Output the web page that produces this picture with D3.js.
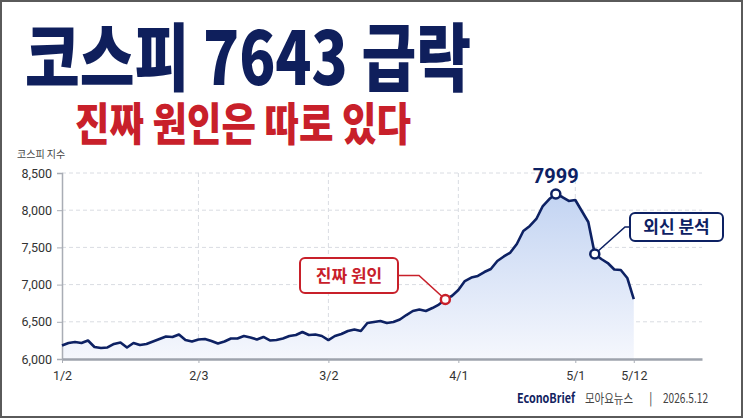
<!DOCTYPE html>
<html>
<head>
<meta charset="utf-8">
<script src="https://cdn.jsdelivr.net/npm/d3@7"></script>
<style>
  body { margin: 0; background: #fff; }
  svg { display: block; font-family: "Noto Sans CJK KR", "Noto Sans", sans-serif; }
</style>
</head>
<body>
<div class="chart"></div>
<script>
// KOSPI daily closes (one per trading day, 1/2 .. 5/12)
const kospi = [
  6181, 6215, 6228, 6215, 6249, 6161, 6148, 6155, 6202, 6222,
  6155, 6215, 6188, 6202, 6235, 6269, 6302, 6296, 6329, 6255,
  6235, 6262, 6269, 6242, 6208, 6235, 6276, 6276, 6309, 6289,
  6262, 6296, 6249, 6255, 6276, 6309, 6323, 6363, 6323, 6329,
  6309, 6255, 6309, 6336, 6376, 6396, 6376, 6484, 6497, 6511,
  6484, 6497, 6531, 6591, 6645, 6665, 6645, 6685, 6732, 6800,
  6847, 6927, 7048, 7095, 7116, 7169, 7210, 7317, 7378, 7431,
  7546, 7720, 7788, 7882, 8056, 8150, 8218, 8177, 8124, 8137,
  7989, 7841, 7411, 7344, 7290, 7203, 7196, 7089, 6806
];

// x-axis tick labels and the trading-day index they sit on
const tickDays = [0, 21, 41, 61, 79, 88];
const tickLabels = ["1/2", "2/3", "3/2", "4/1", "5/1", "5/12"];

// y-axis ticks
const yTicks = [6000, 6500, 7000, 7500, 8000, 8500];

// annotations: index on the line + label
const peakIndex = 76;
const peakLabel = "7999";
const causeIndex = 59;
const causeLabel = "진짜 원인";
const foreignIndex = 82;
const foreignLabel = "외신 분석";

const width = 743;
const height = 418;
const navy = "#0d2163";
const red = "#c8202a";

const svg = d3.select(".chart")
  .append("svg")
    .attr("width", width)
    .attr("height", height);

// border of the card
svg.append("rect")
  .attr("x", 1).attr("y", 1)
  .attr("width", width - 2).attr("height", height - 2)
  .attr("fill", "#fff")
  .attr("stroke", "#5a5a5a")
  .attr("stroke-width", 2);

// headline
svg.append("text")
  .attr("x", 25).attr("y", 85)
  .attr("textLength", 446)
  .attr("lengthAdjust", "spacingAndGlyphs")
  .style("font-size", "74px")
  .style("font-weight", 900)
  .attr("fill", "#0f1f5c")
  .text("코스피 7643 급락");

svg.append("text")
  .attr("x", 75).attr("y", 141)
  .attr("textLength", 336)
  .attr("lengthAdjust", "spacingAndGlyphs")
  .style("font-size", "45px")
  .style("font-weight", 900)
  .attr("fill", red)
  .text("진짜  원인은 따로 있다");

// scales
const x = d3.scaleLinear()
  .domain([0, 98.5])
  .range([62, 702]);

const y = d3.scaleLinear()
  .domain([6000, 8500])
  .range([359, 173]);

// gridlines
svg.append("g")
  .selectAll("line")
  .data(yTicks.slice(1))
  .enter()
  .append("line")
    .attr("x1", x(0)).attr("x2", x(98.5))
    .attr("y1", d => y(d)).attr("y2", d => y(d))
    .attr("stroke", "#d9dce2")
    .attr("stroke-dasharray", "4,3");

svg.append("g")
  .selectAll("line")
  .data(tickDays.slice(1, 5))
  .enter()
  .append("line")
    .attr("x1", d => x(d)).attr("x2", d => x(d))
    .attr("y1", y(8500)).attr("y2", y(6000))
    .attr("stroke", "#d9dce2")
    .attr("stroke-dasharray", "4,3");

// area gradient
const grad = svg.append("defs")
  .append("linearGradient")
    .attr("id", "fill")
    .attr("gradientUnits", "userSpaceOnUse")
    .attr("x1", 0).attr("x2", 0)
    .attr("y1", y(8218)).attr("y2", y(6000));
grad.append("stop").attr("offset", 0).attr("stop-color", "#c3d4f2");
grad.append("stop").attr("offset", 1).attr("stop-color", "#f5f7fd");

const area = d3.area()
  .x((d, i) => x(i))
  .y0(y(6000))
  .y1(d => y(d));

svg.append("path")
  .datum(kospi)
  .attr("d", area)
  .attr("fill", "url(#fill)");

// axes
const yAxis = svg.append("g")
  .attr("transform", `translate(${x(0)},0)`)
  .call(d3.axisLeft(y).tickValues(yTicks).tickFormat(d3.format(",")).tickSize(5).tickPadding(5));
yAxis.select(".domain").attr("stroke", "#a9adb5").attr("stroke-width", 1.5);
yAxis.selectAll(".tick line").attr("stroke", "#a9adb5");
yAxis.selectAll(".tick text")
  .style("font-family", "Roboto, 'Noto Sans', sans-serif")
  .style("font-size", "12.5px")
  .attr("fill", "#333");

const xAxis = svg.append("g")
  .attr("transform", `translate(0,${y(6000)})`)
  .call(d3.axisBottom(x).tickValues(tickDays).tickFormat((d, i) => tickLabels[i]).tickSize(4).tickPadding(8).tickSizeOuter(0));
xAxis.select(".domain").attr("stroke", "#9ea3ad").attr("stroke-width", 2.5);
xAxis.selectAll(".tick line").attr("stroke", "#a9adb5");
xAxis.selectAll(".tick text")
  .style("font-family", "Roboto, 'Noto Sans', sans-serif")
  .style("font-size", "12.5px")
  .attr("fill", "#333");

svg.append("text")
  .attr("x", 17).attr("y", 158)
  .style("font-size", "10px")
  .attr("fill", "#444")
  .text("코스피 지수");

// the line
const line = d3.line()
  .x((d, i) => x(i))
  .y(d => y(d));

svg.append("path")
  .datum(kospi)
  .attr("d", line)
  .attr("fill", "none")
  .attr("stroke", navy)
  .attr("stroke-width", 2.6)
  .attr("stroke-linejoin", "round");

// annotation helper: box with label, elbow leader, ring marker
function callout(idx, label, color, box, elbowX) {
  const px = x(idx), py = y(kospi[idx]);
  const midY = box.y + box.h / 2;
  const edgeX = box.side === "right" ? box.x + box.w : box.x;
  svg.append("polyline")
    .attr("points", `${edgeX},${midY} ${elbowX},${midY} ${px},${py}`)
    .attr("fill", "none")
    .attr("stroke", color)
    .attr("stroke-width", 1.6);
  svg.append("rect")
    .attr("x", box.x).attr("y", box.y)
    .attr("width", box.w).attr("height", box.h)
    .attr("rx", 5)
    .attr("fill", "#fff")
    .attr("stroke", color)
    .attr("stroke-width", 2);
  svg.append("text")
    .attr("x", box.x + box.w / 2).attr("y", midY + 6)
    .attr("text-anchor", "middle")
    .style("font-size", "17px")
    .style("font-weight", 700)
    .attr("fill", color)
    .text(label);
  svg.append("circle")
    .attr("cx", px).attr("cy", py).attr("r", 4.5)
    .attr("fill", "#fff")
    .attr("stroke", color)
    .attr("stroke-width", 2.5);
}

callout(causeIndex, causeLabel, red, {x: 300, y: 258, w: 98, h: 35, side: "right"}, 419);
callout(foreignIndex, foreignLabel, navy, {x: 630, y: 213, w: 93, h: 28, side: "left"}, 625);

// peak marker
svg.append("circle")
  .attr("cx", x(peakIndex)).attr("cy", y(kospi[peakIndex])).attr("r", 4.5)
  .attr("fill", "#fff")
  .attr("stroke", navy)
  .attr("stroke-width", 2.5);
svg.append("text")
  .attr("x", x(peakIndex)).attr("y", y(kospi[peakIndex]) - 11)
  .attr("text-anchor", "middle")
  .style("font-family", "Roboto, 'Noto Sans', sans-serif")
  .style("font-size", "20px")
  .style("font-weight", 700)
  .attr("fill", navy)
  .text(peakLabel);

// footer
const footer = [
  {x: 517, text: "EconoBrief", bold: true, len: 58, color: "#13235f"},
  {x: 585, text: "모아요뉴스", bold: false, len: 48, color: "#444"},
  {x: 649, text: "|", bold: false, len: null, color: "#555"},
  {x: 663, text: "2026.5.12", bold: false, len: 45, color: "#444"}
];
svg.append("g")
  .selectAll("text")
  .data(footer)
  .enter()
  .append("text")
    .attr("x", d => d.x).attr("y", 403)
    .attr("textLength", d => d.len)
    .attr("lengthAdjust", "spacingAndGlyphs")
    .style("font-size", "13px")
    .style("font-weight", d => d.bold ? 700 : 400)
    .attr("fill", d => d.color)
    .text(d => d.text);
</script>
</body>
</html>
